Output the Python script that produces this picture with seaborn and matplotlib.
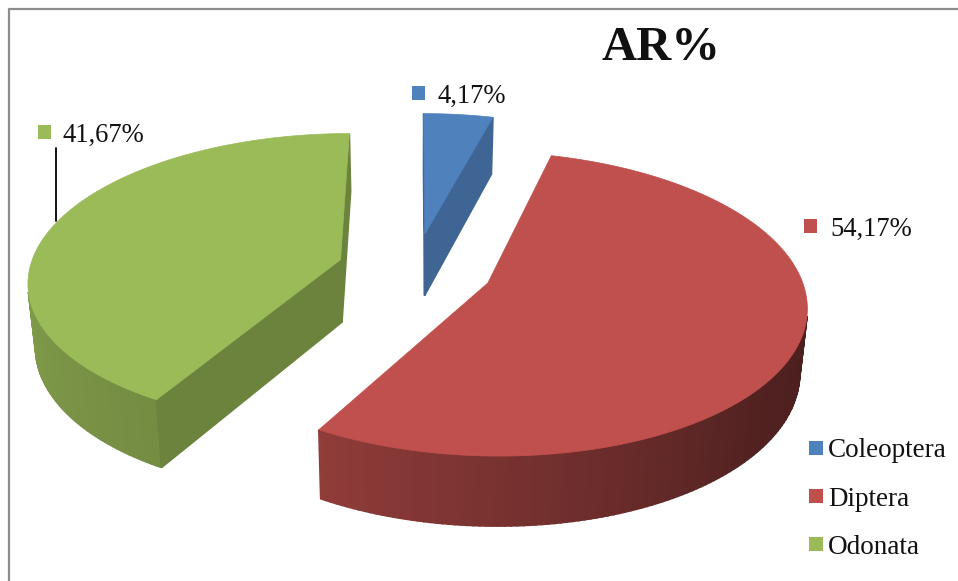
import numpy as np
import pandas as pd
import seaborn as sns
import matplotlib
matplotlib.use("Agg")
import matplotlib.pyplot as plt
from matplotlib.lines import Line2D

# ---- data ----
categories = ["Coleoptera", "Diptera", "Odonata"]
shares = [4.17, 54.17, 41.67]
value_labels = ["4,17%", "54,17%", "41,67%"]
title_text = "AR%"
colors = ["#4F81BD", "#C0504D", "#9BBB59"]

df = pd.DataFrame({"category": categories, "share": shares, "label": value_labels})

sns.set_theme(style="white")
plt.rcParams["font.family"] = ["Liberation Serif", "DejaVu Serif"]
palette = sns.color_palette(colors)

fig = plt.figure(figsize=(9.58, 5.81), dpi=100)
ax = fig.add_axes([0, 0, 1, 1])
ax.set_xlim(0, 958)
ax.set_ylim(581, 0)
ax.axis("off")

# ---- oblique 3D projection of the pie ----
CX, CY, A, B, K, DEPTH, SHRINK, EXPLODE = 415, 269, 311, 145.5, 0.135, 64, 0.02, 0.25


def project(u, v, z):
    w = (1 + K * v) * (1 + SHRINK * z)
    return CX + A * u / w, CY + (-B * v + DEPTH * z) / w


def shade(rgb, f):
    return tuple(np.clip(np.array(rgb) * f, 0, 1))


def rim_factor(theta):
    return np.interp(theta, [90, 130, 210, 275], [0.38, 0.42, 0.75, 0.85])


def draw_quad(p, color):
    xs, ys = zip(*p)
    area = sum(xs[i] * ys[(i + 1) % 4] - xs[(i + 1) % 4] * ys[i] for i in range(4))
    if area < 0:
        ax.fill(xs, ys, color=color, lw=1.2, zorder=2)


fractions = df["share"].to_numpy() / df["share"].sum()
edges = np.concatenate([[0], np.cumsum(fractions)]) * 360

for (t0, t1, rgb) in zip(edges[:-1], edges[1:], palette):
    mid = np.radians((t0 + t1) / 2)
    ou, ov = EXPLODE * np.sin(mid), EXPLODE * np.cos(mid)
    ts = np.linspace(t0, t1, max(int(t1 - t0), 4) + 1)
    ru = ou + np.sin(np.radians(ts))
    rv = ov + np.cos(np.radians(ts))
    # curved outer face
    for i in range(len(ts) - 1):
        draw_quad([project(ru[i], rv[i], 0), project(ru[i + 1], rv[i + 1], 0),
                   project(ru[i + 1], rv[i + 1], 1), project(ru[i], rv[i], 1)],
                  shade(rgb, rim_factor((ts[i] + ts[i + 1]) / 2)))
    # radial faces
    dark = shade(rgb, 0.70 if rgb != palette[0] else 0.78)
    draw_quad([project(ou, ov, 0), project(ru[0], rv[0], 0), project(ru[0], rv[0], 1), project(ou, ov, 1)], dark)
    draw_quad([project(ru[-1], rv[-1], 0), project(ou, ov, 0), project(ou, ov, 1), project(ru[-1], rv[-1], 1)], dark)
    # top face
    tx, ty = project(np.r_[ou, ru], np.r_[ov, rv], 0)
    ax.fill(tx, ty, color=rgb, lw=0.5, zorder=3)

# ---- frame ----
ax.plot([9.5, 9.5, 958], [581, 9, 9], color="#8C8C8C", lw=1.6, zorder=1)

# ---- title ----
ax.text(660.5, 60, title_text, fontsize=35, fontweight="bold", color="#111111",
        ha="center", va="baseline", zorder=5)

# ---- data labels ----
marker_x = [418.5, 810.5, 44.5]
marker_y = [93, 226, 132]
text_x = [438, 830, 63]
sns.scatterplot(x=marker_x, y=marker_y, hue=df["category"].tolist(), palette=list(palette),
                marker="s", s=100, linewidth=0, legend=False, ax=ax, zorder=5)
for tx_, my, lab in zip(text_x, marker_y, df["label"]):
    ax.text(tx_, my + 10, lab, fontsize=19.2, color="#111111", ha="left", va="baseline", zorder=5)

# leader line of the Odonata label
ax.plot([56, 56], [148, 221], color="black", lw=1.3, zorder=6)

# ---- legend ----
handles = [Line2D([], [], linestyle="none", marker="s", markersize=10, markerfacecolor=c,
                  markeredgewidth=0) for c in palette]
leg = ax.legend(handles, categories, loc="center left", bbox_to_anchor=(802, 499),
                bbox_transform=ax.transData, frameon=False, fontsize=19.5, labelspacing=0.85,
                handlelength=1.0, handletextpad=-0.03, borderpad=0, borderaxespad=0)
for t in leg.get_texts():
    t.set_color("#111111")
leg.set_zorder(5)

fig.savefig("out.png", dpi=100)
